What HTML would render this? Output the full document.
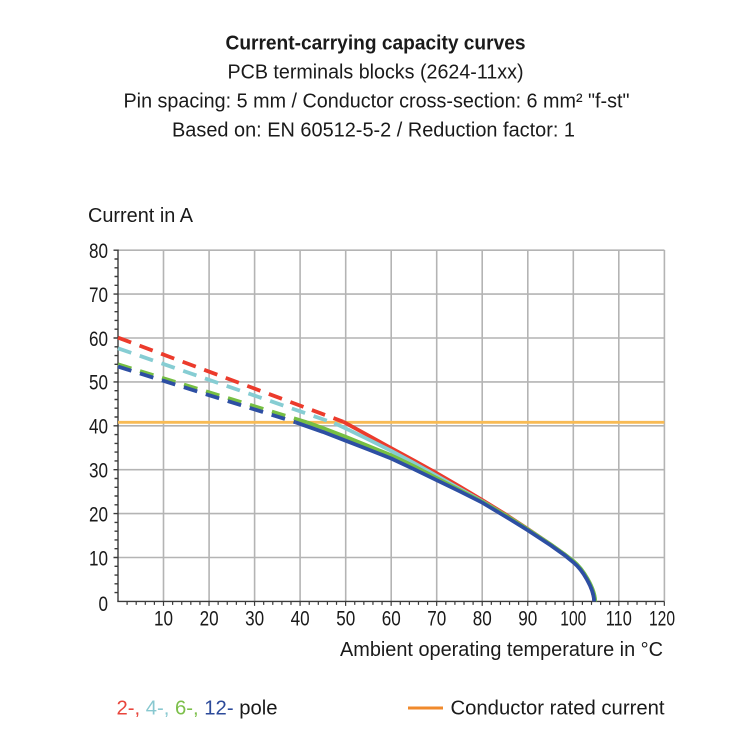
<!DOCTYPE html>
<html>
<head>
<meta charset="utf-8">
<style>
  html,body{margin:0;padding:0;background:#fff;}
  svg{display:block;}
  text{font-family:"Liberation Sans", sans-serif; fill:#1a1a1a;}
</style>
</head>
<body>
<svg width="750" height="750" viewBox="0 0 750 750" xmlns="http://www.w3.org/2000/svg">
  <rect width="750" height="750" fill="#fff"/>

  <!-- Titles -->
  <text x="225.5" y="49.5" font-size="20" font-weight="bold" textLength="300" lengthAdjust="spacingAndGlyphs">Current-carrying capacity curves</text>
  <text x="227.5" y="78.5" font-size="20" textLength="296" lengthAdjust="spacingAndGlyphs">PCB terminals blocks (2624-11xx)</text>
  <text x="123.5" y="107.5" font-size="20" textLength="506" lengthAdjust="spacingAndGlyphs">Pin spacing: 5 mm / Conductor cross-section: 6 mm² "f-st"</text>
  <text x="172" y="136.5" font-size="20" textLength="403" lengthAdjust="spacingAndGlyphs">Based on: EN 60512-5-2 / Reduction factor: 1</text>

  <!-- Y axis title -->
  <text x="88" y="222" font-size="20" textLength="105" lengthAdjust="spacingAndGlyphs">Current in A</text>

  <!-- Grid -->
  <g stroke="#b4b4b4" stroke-width="1.6" fill="none">
    <line x1="163.5" y1="250" x2="163.5" y2="601"/>
    <line x1="209.1" y1="250" x2="209.1" y2="601"/>
    <line x1="254.6" y1="250" x2="254.6" y2="601"/>
    <line x1="300.1" y1="250" x2="300.1" y2="601"/>
    <line x1="345.7" y1="250" x2="345.7" y2="601"/>
    <line x1="391.2" y1="250" x2="391.2" y2="601"/>
    <line x1="436.7" y1="250" x2="436.7" y2="601"/>
    <line x1="482.2" y1="250" x2="482.2" y2="601"/>
    <line x1="527.8" y1="250" x2="527.8" y2="601"/>
    <line x1="573.3" y1="250" x2="573.3" y2="601"/>
    <line x1="618.8" y1="250" x2="618.8" y2="601"/>
    <line x1="664.4" y1="250" x2="664.4" y2="601"/>
    <line x1="118" y1="250.2" x2="664.4" y2="250.2"/>
    <line x1="118" y1="294.1" x2="664.4" y2="294.1"/>
    <line x1="118" y1="338.0" x2="664.4" y2="338.0"/>
    <line x1="118" y1="381.9" x2="664.4" y2="381.9"/>
    <line x1="118" y1="425.8" x2="664.4" y2="425.8"/>
    <line x1="118" y1="469.7" x2="664.4" y2="469.7"/>
    <line x1="118" y1="513.6" x2="664.4" y2="513.6"/>
    <line x1="118" y1="557.5" x2="664.4" y2="557.5"/>
  </g>

  <!-- Axes -->
  <g stroke="#3a3a3a" stroke-width="1.4" fill="none">
    <line x1="118" y1="249.5" x2="118" y2="601.4"/>
    <line x1="117.3" y1="601.4" x2="664.4" y2="601.4"/>
    <path d="M113.5 250.2H118 M114.5 259H118 M114.5 267.8H118 M114.5 276.5H118 M114.5 285.3H118
             M113.5 294.1H118 M114.5 302.9H118 M114.5 311.7H118 M114.5 320.4H118 M114.5 329.2H118
             M113.5 338H118 M114.5 346.8H118 M114.5 355.6H118 M114.5 364.3H118 M114.5 373.1H118
             M113.5 381.9H118 M114.5 390.7H118 M114.5 399.5H118 M114.5 408.2H118 M114.5 417H118
             M113.5 425.8H118 M114.5 434.6H118 M114.5 443.4H118 M114.5 452.1H118 M114.5 460.9H118
             M113.5 469.7H118 M114.5 478.5H118 M114.5 487.3H118 M114.5 496H118 M114.5 504.8H118
             M113.5 513.6H118 M114.5 522.4H118 M114.5 531.2H118 M114.5 539.9H118 M114.5 548.7H118
             M113.5 557.5H118 M114.5 566.3H118 M114.5 575.1H118 M114.5 583.8H118 M114.5 592.6H118"/>
  </g>
  <g stroke="#3a3a3a" stroke-width="1.2">
    <path id="xt" d="M127.1 601.4v3.5 M136.2 601.4v3.5 M145.3 601.4v3.5 M154.4 601.4v3.5 M163.5 601.4v4.5"/>
    <use href="#xt" x="45.53"/>
    <use href="#xt" x="91.06"/>
    <use href="#xt" x="136.59"/>
    <use href="#xt" x="182.12"/>
    <use href="#xt" x="227.65"/>
    <use href="#xt" x="273.18"/>
    <use href="#xt" x="318.71"/>
    <use href="#xt" x="364.24"/>
    <use href="#xt" x="409.77"/>
    <use href="#xt" x="455.3"/>
    <use href="#xt" x="500.83"/>
  </g>

  <!-- Y tick labels -->
  <g font-size="21" text-anchor="end">
    <text x="108" y="258" textLength="19" lengthAdjust="spacingAndGlyphs">80</text>
    <text x="108" y="301.9" textLength="19" lengthAdjust="spacingAndGlyphs">70</text>
    <text x="108" y="345.8" textLength="19" lengthAdjust="spacingAndGlyphs">60</text>
    <text x="108" y="389.7" textLength="19" lengthAdjust="spacingAndGlyphs">50</text>
    <text x="108" y="433.6" textLength="19" lengthAdjust="spacingAndGlyphs">40</text>
    <text x="108" y="477.5" textLength="19" lengthAdjust="spacingAndGlyphs">30</text>
    <text x="108" y="521.4" textLength="19" lengthAdjust="spacingAndGlyphs">20</text>
    <text x="108" y="565.3" textLength="19" lengthAdjust="spacingAndGlyphs">10</text>
    <text x="108" y="611" textLength="9.5" lengthAdjust="spacingAndGlyphs">0</text>
  </g>

  <!-- X tick labels -->
  <g font-size="21" text-anchor="middle">
    <text x="163.5" y="625.5" textLength="19" lengthAdjust="spacingAndGlyphs">10</text>
    <text x="209.1" y="625.5" textLength="19" lengthAdjust="spacingAndGlyphs">20</text>
    <text x="254.6" y="625.5" textLength="19" lengthAdjust="spacingAndGlyphs">30</text>
    <text x="300.1" y="625.5" textLength="19" lengthAdjust="spacingAndGlyphs">40</text>
    <text x="345.7" y="625.5" textLength="19" lengthAdjust="spacingAndGlyphs">50</text>
    <text x="391.2" y="625.5" textLength="19" lengthAdjust="spacingAndGlyphs">60</text>
    <text x="436.7" y="625.5" textLength="19" lengthAdjust="spacingAndGlyphs">70</text>
    <text x="482.2" y="625.5" textLength="19" lengthAdjust="spacingAndGlyphs">80</text>
    <text x="527.8" y="625.5" textLength="19" lengthAdjust="spacingAndGlyphs">90</text>
    <text x="573.3" y="625.5" textLength="26" lengthAdjust="spacingAndGlyphs">100</text>
    <text x="618.8" y="625.5" textLength="26" lengthAdjust="spacingAndGlyphs">110</text>
    <text x="662" y="625.5" textLength="26" lengthAdjust="spacingAndGlyphs">120</text>
  </g>

  <!-- X axis title -->
  <text x="340" y="656" font-size="20.5" textLength="323" lengthAdjust="spacingAndGlyphs">Ambient operating temperature in °C</text>

  <!-- Conductor rated current line -->
  <line x1="118" y1="422.3" x2="664.4" y2="422.3" stroke="#f8bb55" stroke-width="2.8"/>

  <!-- Curves -->
  <g fill="none" stroke-width="3.8" stroke-linejoin="round" stroke-linecap="butt">
    <!-- red 2-pole -->
    <line x1="118" y1="337.6" x2="343.4" y2="421.8" stroke="#ec3b2c" stroke-dasharray="14 9"/>
    <path stroke="#ec3b2c" d="M343.4,421.8 L368.4,435.5 L391.2,448.2 L414.0,460.5 L436.7,473.2 L459.5,486.4 L482.2,500.0 L505.0,514.0 L527.8,529.0 L550.5,544.3 L564.2,554.0 L572.8,561.0 C581.8,568.4 593.8,587.8 594.2,601.4"/>
    <!-- cyan 4-pole -->
    <line x1="118" y1="348.3" x2="334.3" y2="423.2" stroke="#86cdd3" stroke-dasharray="14 9"/>
    <path stroke="#86cdd3" d="M334.3,423.2 L345.7,428.4 L368.4,439.4 L391.2,450.8 L414.0,463.1 L436.7,475.8 L459.5,488.6 L482.2,501.3 L505.0,514.9 L527.8,529.4 L550.5,544.3 L564.2,554.0 L573.6,561.3 C582.6,568.6 594.8,587.8 595.2,601.4"/>
    <!-- green 6-pole -->
    <line x1="118" y1="364.3" x2="306.9" y2="422.3" stroke="#76bf43" stroke-dasharray="14 9"/>
    <path stroke="#76bf43" d="M306.9,422.3 L322.9,428.0 L345.7,436.8 L368.4,446.0 L391.2,455.2 L414.0,466.2 L436.7,478.0 L459.5,489.9 L482.2,501.7 L505.0,514.9 L527.8,529.4 L550.5,544.3 L564.2,554.0 L573.6,561.3 C582.6,568.6 594.8,587.8 595.2,601.4"/>
    <!-- blue 12-pole -->
    <line x1="118" y1="366.6" x2="295.6" y2="422.3" stroke="#2d4fa3" stroke-dasharray="14 9"/>
    <path stroke="#2d4fa3" d="M295.6,422.3 L322.9,431.9 L345.7,440.7 L368.4,449.5 L391.2,458.5 L414.0,469.2 L436.7,480.2 L459.5,491.2 L482.2,502.6 L505.0,516.2 L527.8,530.3 L550.5,545.2 L564.2,554.9 L573.3,562.3 C582.3,569.6 593.8,588 594.2,601.4"/>
  </g>

  <!-- Legend -->
  <text x="116.5" y="714.5" font-size="20.5" textLength="161" lengthAdjust="spacingAndGlyphs"><tspan fill="#e8453c">2-, </tspan><tspan fill="#88c8d0">4-, </tspan><tspan fill="#7cbf4a">6-, </tspan><tspan fill="#2c4a9a">12- </tspan><tspan fill="#1a1a1a">pole</tspan></text>
  <line x1="408" y1="708" x2="443" y2="708" stroke="#f08a2c" stroke-width="3"/>
  <text x="450.5" y="714.5" font-size="20.5" textLength="214" lengthAdjust="spacingAndGlyphs">Conductor rated current</text>
</svg>
</body>
</html>
